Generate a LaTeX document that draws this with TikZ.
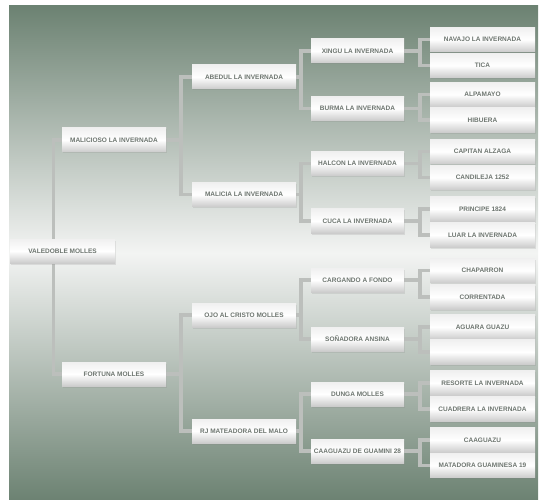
\documentclass[tikz,border=0pt]{standalone}
\usepackage{fontspec}
\setmainfont{Liberation Sans}
\usetikzlibrary{shadows}
\definecolor{bgdark}{RGB}{108,130,114}
\definecolor{bglight}{RGB}{243,244,243}
\definecolor{linec}{RGB}{188,191,188}
\definecolor{txt}{RGB}{108,116,110}
\pgfdeclareverticalshading{bgshade}{100bp}{color(0bp)=(bgdark); color(25bp)=(bgdark); color(50bp)=(bglight); color(75bp)=(bgdark); color(100bp)=(bgdark)}
\pgfdeclarelayer{bglayer}
\pgfdeclarelayer{lines}
\pgfsetlayers{bglayer,lines,main}
\tikzset{
  box/.style={rectangle, inner sep=0pt, minimum height=24pt,
    top color=black!6, bottom color=black!20, middle color=white,
    font=\fontsize{6.5}{7}\selectfont\bfseries, text=txt,
    drop shadow={opacity=0.18, shadow xshift=0.8pt, shadow yshift=-1.5pt}},
  bA/.style={box, minimum width=105pt},
  bB/.style={box, minimum width=104pt},
  bC/.style={box, minimum width=93pt},
  bD/.style={box, minimum width=105pt, minimum height=24.5pt},
  conn/.style={draw=linec, line width=3.5pt, line join=miter}
}
\newcommand\brk[4]{%
  \draw[conn] (#1.east) -- ++(#4,0) |- (#2.west);
  \draw[conn] (#1.east) -- ++(#4,0) |- (#3.west);}
\begin{document}
\begin{tikzpicture}[x=1pt, y=-1pt]
\useasboundingbox (0,0) rectangle (552,500);
\begin{pgfonlayer}{bglayer}
\fill[shading=bgshade] (9,6) rectangle (538,500);
\end{pgfonlayer}
% level 0
\node[bA] (r) at (62.5,251) {VALEDOBLE MOLLES};
% level 1
\node[bB] (m) at (114,140) {MALICIOSO LA INVERNADA};
\node[bB] (f) at (114,374) {FORTUNA MOLLES};
% level 2
\node[bB] (ab) at (244,77) {ABEDUL LA INVERNADA};
\node[bB] (ma) at (244,194.5) {MALICIA LA INVERNADA};
\node[bB] (oj) at (244,315) {OJO AL CRISTO MOLLES};
\node[bB] (rj) at (244,431) {RJ MATEADORA DEL MALO};
% level 3
\node[bC] (xi) at (357.5,51) {XINGU LA INVERNADA};
\node[bC] (bu) at (357.5,108.5) {BURMA LA INVERNADA};
\node[bC] (ha) at (357.5,163.5) {HALCON LA INVERNADA};
\node[bC] (cu) at (357.5,221) {CUCA LA INVERNADA};
\node[bC] (ca) at (357.5,280) {CARGANDO A FONDO};
\node[bC] (so) at (357.5,339) {SOÑADORA ANSINA};
\node[bC] (du) at (357.5,394) {DUNGA MOLLES};
\node[bC] (cg) at (357.5,451) {CAAGUAZU DE GUAMINI 28};
% level 4
\node[bD] (n1) at (482.5,39.5) {NAVAJO LA INVERNADA};
\node[bD] (n2) at (482.5,65.5) {TICA};
\node[bD] (n3) at (482.5,94.5) {ALPAMAYO};
\node[bD] (n4) at (482.5,120) {HIBUERA};
\node[bD] (n5) at (482.5,151.5) {CAPITAN ALZAGA};
\node[bD] (n6) at (482.5,177.5) {CANDILEJA 1252};
\node[bD] (n7) at (482.5,209) {PRINCIPE 1824};
\node[bD] (n8) at (482.5,235) {LUAR LA INVERNADA};
\node[bD] (n9) at (482.5,270.5) {CHAPARRON};
\node[bD] (n10) at (482.5,297) {CORRENTADA};
\node[bD] (n11) at (482.5,327) {AGUARA GUAZU};
\node[bD] (n12) at (482.5,352) {};
\node[bD] (n13) at (482.5,383) {RESORTE LA INVERNADA};
\node[bD] (n14) at (482.5,409) {CUADRERA LA INVERNADA};
\node[bD] (n15) at (482.5,440) {CAAGUAZU};
\node[bD] (n16) at (482.5,465.5) {MATADORA GUAMINESA 19};
\begin{pgfonlayer}{lines}
\coordinate (rc) at ([xshift=-9pt]r.center);
\draw[conn] (m.west) -| (rc) |- (f.west);
\brk{m}{ab}{ma}{15}
\brk{f}{oj}{rj}{15}
\brk{ab}{xi}{bu}{5}
\brk{ma}{ha}{cu}{5}
\brk{oj}{ca}{so}{5}
\brk{rj}{du}{cg}{5}
\brk{xi}{n1}{n2}{16}
\brk{bu}{n3}{n4}{16}
\brk{ha}{n5}{n6}{16}
\brk{cu}{n7}{n8}{16}
\brk{ca}{n9}{n10}{16}
\brk{so}{n11}{n12}{16}
\brk{du}{n13}{n14}{16}
\brk{cg}{n15}{n16}{16}
\end{pgfonlayer}
\end{tikzpicture}
\end{document}
